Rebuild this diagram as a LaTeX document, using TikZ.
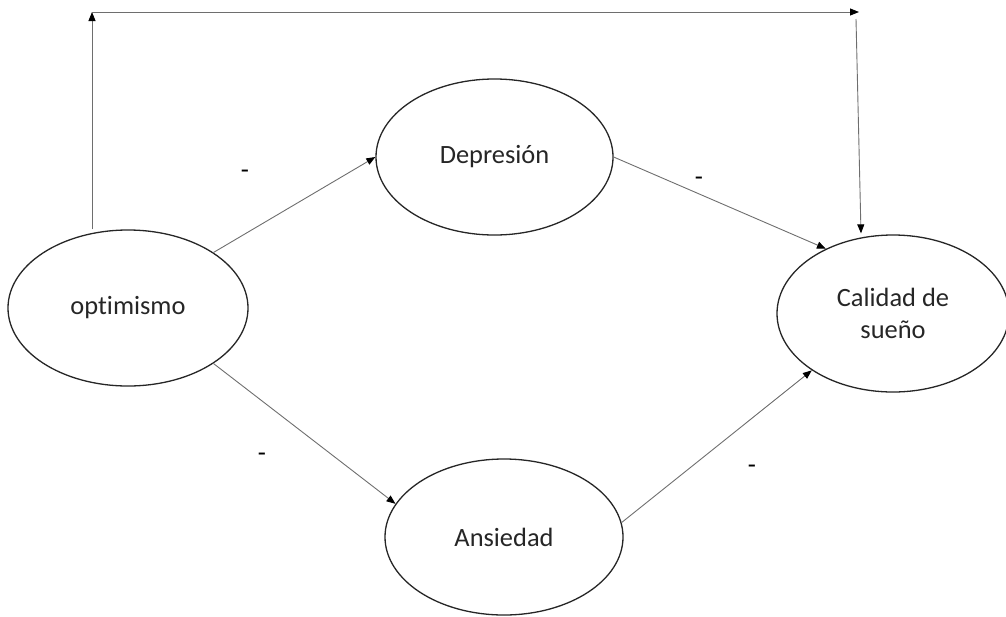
\documentclass[tikz,border=0pt]{standalone}
\usepackage{fontspec}
\setmainfont{Carlito}[Ligatures={NoCommon}]
\usetikzlibrary{shapes.geometric,arrows.meta}

\definecolor{rim}{RGB}{38,38,38}
\definecolor{wire}{RGB}{110,110,110}

\tikzset{
  var/.style={ellipse, draw=rim, line width=1.3pt, fill=white, inner sep=0pt,
    minimum width=238pt, minimum height=156pt, align=center,
    font=\fontsize{26.4}{32}\selectfont, text=black!85},
  link/.style={draw=wire, line width=0.9pt,
    -{Triangle[length=9pt,width=7pt,fill=black,color=black]}},
  sign/.style={inner sep=0pt, font=\fontsize{26.4}{32}\selectfont}
}

\begin{document}
\begin{tikzpicture}[x=1pt,y=-1pt]
  \useasboundingbox (0,0) rectangle (1006,616);

  % variables
  \node[var, minimum width=240pt] (opt) at (128,308) {optimismo};
  \node[var, minimum width=237pt] (dep) at (494.5,157) {Depresión};
  \node[var] (ans) at (504,537) {Ansiedad};
  \node[var, minimum width=232pt, minimum height=157pt] (cal) at (893,313.5) {Calidad de\\sueño};

  % corners of the direct path
  \coordinate (tl) at (92,12);
  \coordinate (tr) at (859,12);
  \coordinate (td) at (856,19);

  % mediated paths
  \draw[link] (opt.33.8) -- (dep.west);
  \draw[link] (dep.east) -- (cal.136.5);
  \draw[link] (opt.-33) -- (ans.163);
  \draw[link] (ans.7) -- (cal.-145);

  % direct path
  \draw[link] (tl |- opt.north) -- (tl);
  \draw[link] (tl) -- (tr);
  \draw[link] (td) -- ([xshift=-32pt,yshift=1pt]cal.north);

  % signs
  \node[sign] (m1) at (245,174) {-};
  \node[sign] (m2) at (699,181) {-};
  \node[sign] (m3) at (262,457) {-};
  \node[sign] (m4) at (752,469) {-};
\end{tikzpicture}
\end{document}
